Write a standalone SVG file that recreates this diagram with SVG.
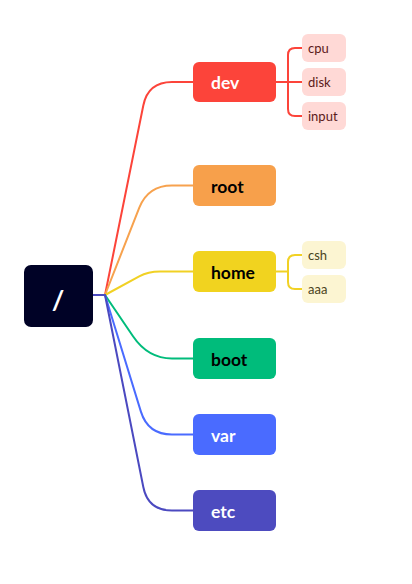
<svg xmlns="http://www.w3.org/2000/svg" width="412" height="584" viewBox="0 0 412 584">
<style>
.lbl{font-family:Lato,"Open Sans",sans-serif;font-weight:700;font-size:17.5px}
.sub{font-family:Lato,"Open Sans",sans-serif;font-size:13px}
.ln{fill:none;stroke-width:2;stroke-linecap:round;stroke-linejoin:round}
</style>
<rect width="412" height="584" fill="#ffffff"/>
<g id="connectors">
<path class="ln" stroke="#4B49C0" d="M93,295 H105"/>
<path class="ln" stroke="#FC443A" d="M105,295 L143.3,105.5 Q148,82 172,82 H193"/>
<path class="ln" stroke="#F7A24E" d="M105,295 L139.2,207.9 Q148,185.5 172,185.5 H193"/>
<path class="ln" stroke="#F1D124" d="M105,295 L139.2,276.3 Q148,271.5 160,271.5 H193"/>
<path class="ln" stroke="#00BC7B" d="M105,295 L133,336.3 Q148,358.5 172,358.5 H193"/>
<path class="ln" stroke="#4A6BFF" d="M105,295 L140.9,411.6 Q148,434.5 172,434.5 H193"/>
<path class="ln" stroke="#4B49C0" d="M105,295 L143.3,487 Q148,510.5 172,510.5 H193"/>
<path class="ln" stroke="#FC443A" d="M276,82 H302 M288,82 V55 Q288,48 295,48 H302 M288,82 V109 Q288,116 295,116 H302"/>
<path class="ln" stroke="#F1D124" d="M276,271.5 H288 V262 Q288,255 295,255 H302 M288,271.5 V282 Q288,289 295,289 H302"/>
</g>
<g id="node-root">
<rect x="24" y="265" width="69" height="62" rx="7" fill="#000226"/>
<text x="58" y="310" text-anchor="middle" fill="#ffffff" style="font-family:Lato,'Open Sans',sans-serif;font-weight:700;font-size:27px">/</text>
</g>
<g id="node-dev">
<rect x="193" y="62" width="83" height="40" rx="6" fill="#FC443A"/>
<text class="lbl" x="211" y="89" fill="#ffffff">dev</text>
</g>
<g id="node-root-dir">
<rect x="193" y="165" width="83" height="41" rx="6" fill="#F7A04B"/>
<text class="lbl" x="211" y="192.5" fill="#000000">root</text>
</g>
<g id="node-home">
<rect x="193" y="251" width="83" height="41" rx="6" fill="#F1D31F"/>
<text class="lbl" x="211" y="278.5" fill="#000000">home</text>
</g>
<g id="node-boot">
<rect x="193" y="338" width="83" height="41" rx="6" fill="#00BC7B"/>
<text class="lbl" x="211" y="365.5" fill="#000000">boot</text>
</g>
<g id="node-var">
<rect x="193" y="414" width="83" height="41" rx="6" fill="#4A6BFF"/>
<text class="lbl" x="211" y="441.5" fill="#ffffff">var</text>
</g>
<g id="node-etc">
<rect x="193" y="490" width="83" height="41" rx="6" fill="#4D4BBF"/>
<text class="lbl" x="211" y="517.5" fill="#ffffff">etc</text>
</g>
<g id="node-cpu">
<rect x="302" y="34" width="44" height="28" rx="6" fill="#FFD9D6"/>
<text class="sub" x="308" y="52.5" fill="#5C1A1A">cpu</text>
</g>
<g id="node-disk">
<rect x="302" y="68" width="44" height="28" rx="6" fill="#FFD9D6"/>
<text class="sub" x="308" y="86.5" fill="#5C1A1A">disk</text>
</g>
<g id="node-input">
<rect x="302" y="102" width="44" height="28" rx="6" fill="#FFD9D6"/>
<text class="sub" x="308" y="120.5" fill="#5C1A1A">input</text>
</g>
<g id="node-csh">
<rect x="302" y="241" width="44" height="28" rx="6" fill="#FCF5D2"/>
<text class="sub" x="308" y="259.5" fill="#4A4420">csh</text>
</g>
<g id="node-aaa">
<rect x="302" y="275" width="44" height="28" rx="6" fill="#FCF5D2"/>
<text class="sub" x="308" y="293.5" fill="#4A4420">aaa</text>
</g>
</svg>
